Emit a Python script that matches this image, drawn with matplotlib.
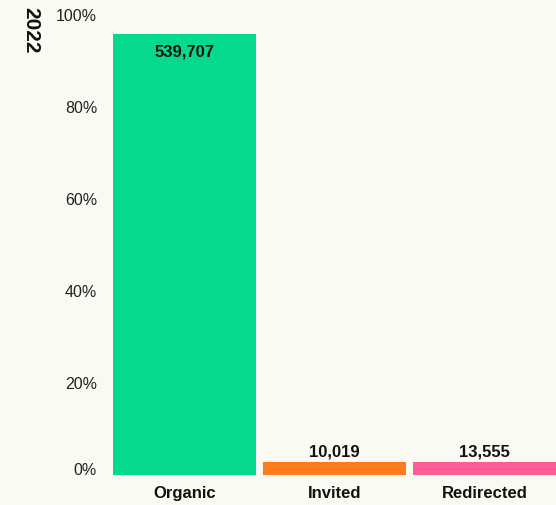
import matplotlib.pyplot as plt

# data
categories = ['Organic', 'Invited', 'Redirected']
counts = [539707, 10019, 13555]
year = '2022'
bar_colors = ['#05D98E', '#FF7A1C', '#FF5C97']
min_visible = 2.75  # small bars are drawn at a minimum height in the original

total = sum(counts)
shares = [max(c / total * 100, min_visible) for c in counts]

plt.rcParams['font.family'] = ['Liberation Sans', 'DejaVu Sans']
bg = '#FAF9F2'

fig = plt.figure(figsize=(5.56, 5.05), dpi=100, facecolor=bg)
ax = fig.add_axes([113 / 556, 30 / 505, 1 - 113 / 556, 460 / 505])
ax.set_facecolor(bg)

x = range(len(categories))
bars = ax.bar(x, shares, width=0.95, color=bar_colors)

for b, c in zip(bars, counts):
    h = b.get_height()
    if h > 50:
        ax.text(b.get_x() + b.get_width() / 2, h - 3.8, f'{c:,}', ha='center', va='center',
                fontsize=12, fontweight='bold', color='#111111')
    else:
        ax.text(b.get_x() + b.get_width() / 2, h + 0.7, f'{c:,}', ha='center', va='bottom',
                fontsize=12, fontweight='bold', color='#111111')

ax.set_xlim(-0.475, 2.475)
ax.set_ylim(0, 100)
ax.set_yticks([0, 20, 40, 60, 80, 100])
ax.set_yticklabels([f'{v}%' for v in [0, 20, 40, 60, 80, 100]])
ax.set_xticks(list(x))
ax.set_xticklabels(categories, fontweight='bold')
ax.tick_params(axis='y', length=0, pad=11.5, labelsize=11.5, labelcolor='#222222')
ax.tick_params(axis='x', length=0, pad=8, labelsize=12, labelcolor='#111111')
ax.get_yticklabels()[0].set_va('baseline')
for s in ax.spines.values():
    s.set_visible(False)

fig.text(31 / 556, 1 - 7 / 505, year, rotation=270, ha='center', va='top',
         fontsize=15, fontweight='bold', color='#111111')

fig.savefig('out.png', dpi=100, facecolor=bg)
